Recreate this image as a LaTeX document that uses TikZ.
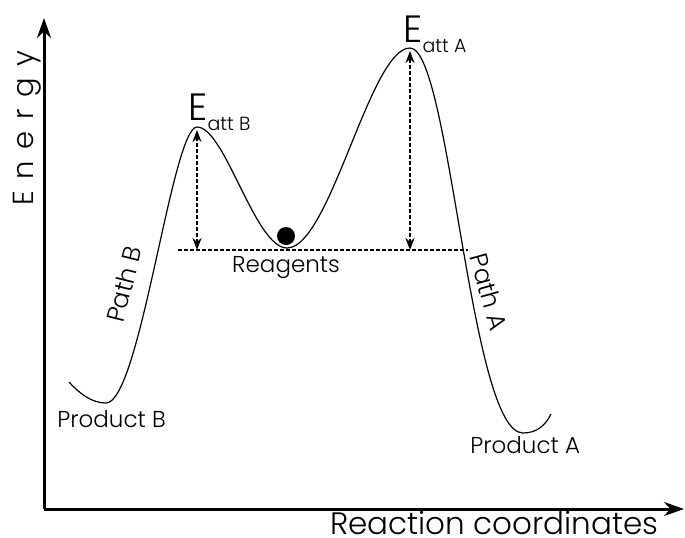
\documentclass[tikz,border=0pt]{standalone}
\usepackage{fontspec}
\setmainfont{Poppins Light}
\newfontfamily\spacedfont[LetterSpace=40]{Poppins Light}
\usetikzlibrary{arrows.meta}

\newcommand{\eatt}[1]{E\raisebox{-5pt}{\fontsize{9.5}{10}\selectfont att #1}}

\begin{document}
\begin{tikzpicture}[x=0.5pt, y=-0.5pt, every node/.style={inner sep=0pt, align=center},
    axis/.style={line width=1.5pt, -{Stealth[length=10pt, width=7pt]}},
    barrier/.style={line width=1.1pt, dash pattern=on 2pt off 1pt, {Stealth[length=6pt, width=4.5pt]}-{Stealth[length=6pt, width=4.5pt]}},
    level/.style={line width=1.1pt, dash pattern=on 2pt off 1pt},
    lbl/.style={font=\fontsize{11.5}{12}\selectfont}]
  \useasboundingbox (0,0) rectangle (685,537);

  % --- Axes ---
  \coordinate (origin) at (44,509);
  \coordinate (ytop)   at (44,18);
  \coordinate (xend)   at (684,509);
  \draw[axis] (origin) -- (ytop);
  \draw[axis] (origin) -- (xend);
  \node[rotate=90, anchor=base, font=\spacedfont\fontsize{14.5}{15}\selectfont] (energy) at (33,128) {Energy};
  \node[anchor=base east, font=\fontsize{15.5}{16}\selectfont] (rxn) at (659,534) {Reaction coordinates};

  % --- Energy profile ---
  \coordinate (startB) at (69,382);
  \coordinate (minB)   at (106,403);
  \coordinate (peakB)  at (197,127);
  \coordinate (minR)   at (287,248);
  \coordinate (peakA)  at (410,48);
  \coordinate (minA)   at (523,433);
  \coordinate (endA)   at (551,414);
  \draw[line width=0.6pt] (startB) .. controls (80,394) and (92,403) .. (minB)
    .. controls (140,403) and (172,127) .. (peakB)
    .. controls (225,127) and (255,248) .. (minR)
    .. controls (330,248) and (370,48) .. (peakA)
    .. controls (450,48) and (470,433) .. (minA)
    .. controls (538,433) and (546,424) .. (endA);

  % --- Reagents level and ball ---
  \coordinate (levL) at (178,250);
  \coordinate (levR) at (468,250);
  \draw[level] (levL) -- (levR);
  \fill (286,236) circle[radius=9];
  \node[lbl, anchor=base] (reag) at (286,272) {Reagents};

  % --- Activation energies ---
  \coordinate (baseB) at (197,250);
  \coordinate (baseA) at (410,250);
  \draw[barrier, shorten >=1.5pt] (baseB) -- (peakB);
  \draw[barrier, shorten >=1.5pt] (baseA) -- (peakA);
  \node[anchor=base west, font=\fontsize{19}{20}\selectfont] (eattb) at (188,120) {\eatt{B}};
  \node[anchor=base west, font=\fontsize{19}{20}\selectfont] (eatta) at (403,42) {\eatt{A}};

  % --- Paths and products ---
  \node[rotate=76, font=\fontsize{12.5}{14}\selectfont] (pathb) at (124,284) {Path B};
  \node[rotate=-74.5, font=\fontsize{12.5}{14}\selectfont] (patha) at (489,292) {Path A};
  \node[lbl, anchor=base west] (prodb) at (57,427) {Product B};
  \node[lbl, anchor=base west] (proda) at (470,453) {Product A};
\end{tikzpicture}
\end{document}
